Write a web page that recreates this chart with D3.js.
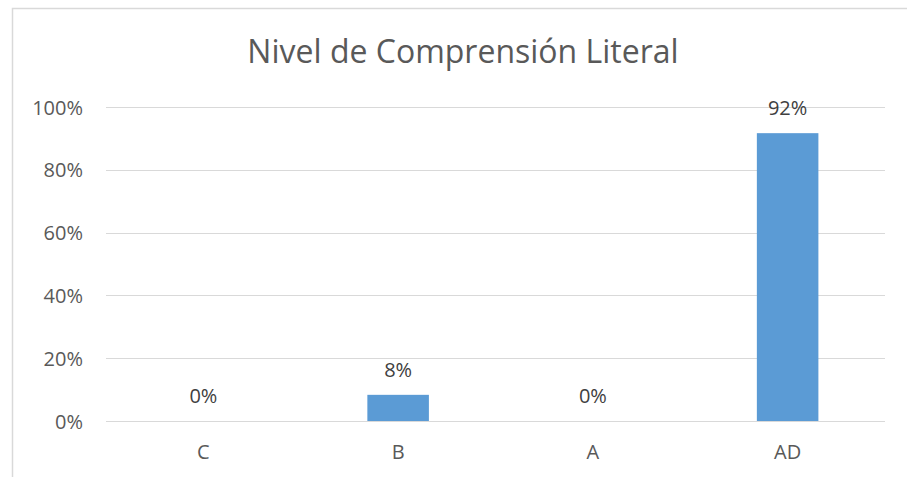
<!DOCTYPE html>
<meta charset="utf-8">
<style>
body {
    margin: 0px;
    background: white;
    font-family: "Open Sans", sans-serif;
}
.title {
  font-size: 32px;
  fill: #595959;
}
.tick-label {
  font-size: 20px;
  fill: #595959;
}
.data-label {
  font-size: 20px;
  fill: #404040;
}
</style>
<body>
<script src="https://d3js.org/d3.v7.min.js"></script>
<script>
var width = 907,
    height = 477

var categories = ["C", "B", "A", "AD"]
var values = [0, 1 / 12, 0, 11 / 12]
var yTicks = [0, 0.2, 0.4, 0.6, 0.8, 1]

var margin = {left: 106, right: 22, top: 107, bottom: 56}

var svg = d3.select("body").append("svg")
    .attr("width", width)
    .attr("height", height)

// chart frame (only top and left edges are visible in the picture)
svg.append("path")
    .attr("d", "M12.5," + height + "V8.5H" + width)
    .attr("fill", "none")
    .attr("stroke", "#d9d9d9")
    .attr("stroke-width", 1.5)

var x = d3.scaleBand()
    .domain(categories)
    .range([margin.left, width - margin.right])
    .paddingInner(0.684)
    .paddingOuter(0.342)

var y = d3.scaleLinear()
    .domain([0, 1])
    .range([height - margin.bottom, margin.top])

var fmt = d3.format(".0%")

// gridlines
svg.append("g")
    .selectAll("line")
    .data(yTicks)
    .enter()
    .append("line")
    .attr("x1", margin.left)
    .attr("x2", width - margin.right)
    .attr("y1", function(d) { return Math.round(y(d)) + 0.5 })
    .attr("y2", function(d) { return Math.round(y(d)) + 0.5 })
    .attr("stroke", "#d9d9d9")
    .attr("stroke-width", 1)

// y tick labels
svg.append("g")
    .selectAll("text")
    .data(yTicks)
    .enter()
    .append("text")
    .attr("class", "tick-label")
    .attr("x", 83)
    .attr("y", function(d) { return y(d) + 7.5 })
    .attr("text-anchor", "end")
    .text(fmt)

// bars
svg.append("g")
    .selectAll("rect")
    .data(values)
    .enter()
    .append("rect")
    .attr("x", function(d, i) { return x(categories[i]) })
    .attr("width", x.bandwidth())
    .attr("y", function(d) { return y(d) })
    .attr("height", function(d) { return y(0) - y(d) })
    .attr("fill", "#5b9bd5")

// category labels
svg.append("g")
    .selectAll("text")
    .data(categories)
    .enter()
    .append("text")
    .attr("class", "tick-label")
    .attr("x", function(d) { return x(d) + x.bandwidth() / 2 })
    .attr("y", y(0) + 38)
    .attr("text-anchor", "middle")
    .text(function(d) { return d })

// data labels
svg.append("g")
    .selectAll("text")
    .data(values)
    .enter()
    .append("text")
    .attr("class", "data-label")
    .attr("x", function(d, i) { return x(categories[i]) + x.bandwidth() / 2 })
    .attr("y", function(d) { return y(d) - 18 })
    .attr("text-anchor", "middle")
    .text(fmt)

svg.append("text")
    .attr("class", "title")
    .attr("x", 463)
    .attr("y", 63)
    .attr("text-anchor", "middle")
    .text("Nivel de Comprensión Literal")
</script>
